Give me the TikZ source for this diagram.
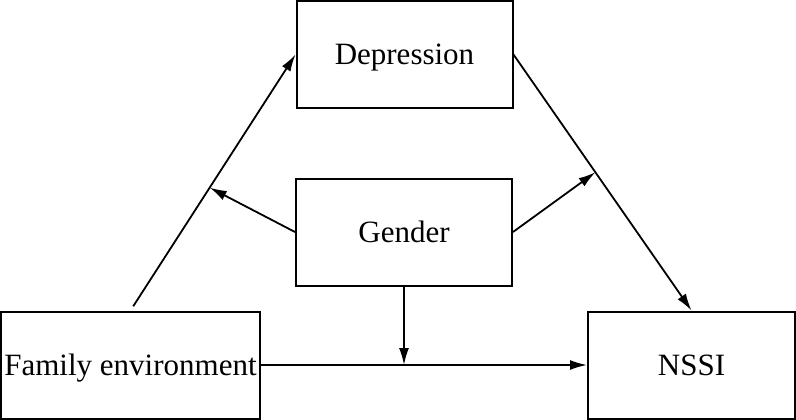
\documentclass[tikz,border=0pt]{standalone}
\usepackage{fontspec}
\setmainfont{Liberation Serif}
\usetikzlibrary{arrows.meta,calc}

\begin{document}
\begin{tikzpicture}[x=1pt, y=-1pt, >={Latex[length=17pt,width=10pt]},
	box/.style={draw, line width=2pt, inner sep=0pt, minimum height=107pt,
		text height=20pt, text depth=0pt, font=\fontsize{31}{37}\selectfont},
	link/.style={->, line width=1.8pt}]
	\useasboundingbox (0,0) rectangle (796,420);
	
	% 1. 四个方框
	\node[box, minimum width=216pt] (dep) at (404.5,54.5) {Depression};
	\node[box, minimum width=216pt] (gen) at (404,232) {Gender};
	\node[box, minimum width=259pt] (fam) at (130.5,365) {Family environment};
	\node[box, minimum width=207pt] (nssi) at (691.5,365) {NSSI};
	
	% 2. 主路径
	\draw[link, shorten <=5pt] (fam.north) -- (dep.west);
	\draw[link] (dep.east) -- (nssi.north);
	\draw[link] (fam.east) -- (nssi.west);
	
	% 3. 调节点（落在主路径上）
	\coordinate (m1) at ($(fam.north)!0.48!(dep.west)$);
	\coordinate (m2) at ($(dep.east)!0.46!(nssi.north)$);
	\coordinate (m3) at (gen.south |- fam.east);
	
	% 4. 性别的调节箭头
	\draw[link] (gen.west) -- (m1);
	\draw[link] (gen.east) -- (m2);
	\draw[link] (gen.south) -- (m3);
\end{tikzpicture}
\end{document}
